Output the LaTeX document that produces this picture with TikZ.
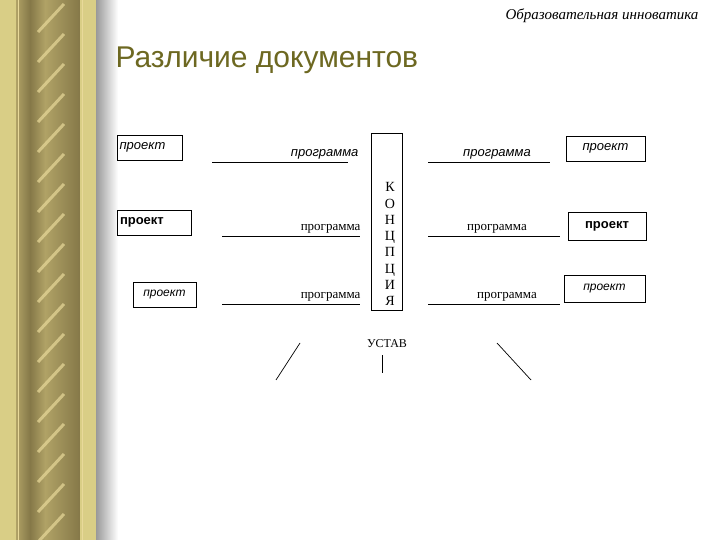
\documentclass[tikz,border=0pt]{standalone}
\usepackage{fontspec}
\setmainfont{Liberation Serif}
\newfontfamily\arialf{Liberation Sans}
\begin{document}
\begin{tikzpicture}[x=1pt,y=-1pt,
 pbox/.style={draw,line width=0.8pt,inner sep=0pt},
 lnk/.style={line width=0.7pt},
 sl/.style={font=\arialf\itshape\fontsize{13}{15}\selectfont},
 sr/.style={font=\fontsize{13}{15}\selectfont}]
\useasboundingbox (0,0) rectangle (720,540);
\fill[white] (0,0) rectangle (720,540);
% pillar
\definecolor{pl}{HTML}{D9CE86}
\definecolor{pd}{HTML}{857848}
\definecolor{pm}{HTML}{B0A266}
\definecolor{ph}{HTML}{E8D99A}
\shade[left color=gray!80,right color=white] (96,0) rectangle (118,540);
\fill[pl] (0,0) rectangle (16,540);
\shade[left color=pm,right color=pd] (16,0) rectangle (30,540);
\shade[left color=pd,right color=pm] (30,0) rectangle (45,540);
\shade[left color=pm,right color=pd] (45,0) rectangle (80,540);
\fill[pl] (80,0) rectangle (96,540);
\draw[ph,line width=0.6pt] (18,0) -- (18,540) (82,0) -- (82,540);
\foreach \y in {10,40,...,540} \draw[ph,line width=3pt,opacity=0.7] (38,\y+22) -- (64,\y-6);
% header
\node[anchor=east,font=\itshape\fontsize{15}{17}\selectfont] (hdr) at (702,16) {Образовательная инноватика};
\node[anchor=west,font=\arialf\fontsize{30}{34}\selectfont,text=olive!70!black] (ttl) at (112,60) {Различие документов};
% left boxes
\node[pbox,minimum width=65pt,minimum height=25pt,sl,align=left,text width=60pt] (l1) at (149.5,147.5) {проект};
\node[pbox,minimum width=74pt,minimum height=25pt,font=\arialf\bfseries\fontsize{13}{15}\selectfont,align=left,text width=68pt] (l2) at (154,222.5) {проект};
\node[pbox,minimum width=63pt,minimum height=25pt,font=\arialf\itshape\fontsize{12}{14}\selectfont] (l3) at (164.5,294.5) {проект};
% right boxes
\node[pbox,minimum width=79pt,minimum height=25pt,sl] (r1) at (605.5,148.5) {проект};
\node[pbox,minimum width=78pt,minimum height=28pt,font=\arialf\bfseries\fontsize{13}{15}\selectfont] (r2) at (607,226) {проект};
\node[pbox,minimum width=81pt,minimum height=27pt,font=\arialf\itshape\fontsize{12}{14}\selectfont] (r3) at (604.5,288.5) {проект};
% concept
\node[pbox,minimum width=31pt,minimum height=177pt] (kc) at (386.5,221.5) {};
\node[align=center,font=\fontsize{14}{16.3}\selectfont,inner sep=0pt,anchor=south] (kt) at (390,306) {К\\О\\Н\\Ц\\П\\Ц\\И\\Я};
% program lines
\coordinate (a1) at (212,162); \coordinate (b1) at (348,162);
\coordinate (a2) at (222,236); \coordinate (b2) at (360,236);
\coordinate (a3) at (222,304); \coordinate (b3) at (360,304);
\coordinate (c1) at (428,162); \coordinate (d1) at (550,162);
\coordinate (c2) at (428,236); \coordinate (d2) at (560,236);
\coordinate (c3) at (428,304); \coordinate (d3) at (560,304);
\draw[lnk] (a1) -- (b1); \draw[lnk] (a2) -- (b2); \draw[lnk] (a3) -- (b3);
\draw[lnk] (c1) -- (d1); \draw[lnk] (c2) -- (d2); \draw[lnk] (c3) -- (d3);
\node[sl,anchor=south east] (p1) at (362,163) {программа};
\node[sr,anchor=south east] (p2) at (364,237) {программа};
\node[sr,anchor=south east] (p3) at (364,305) {программа};
\node[sl,anchor=south] (q1) at (497,163) {программа};
\node[sr,anchor=south] (q2) at (497,237) {программа};
\node[sr,anchor=south] (q3) at (507,305) {программа};
% ustav
\node[font=\fontsize{12}{14}\selectfont] (us) at (387,344) {УСТАВ};
\coordinate (e1) at (300,343); \coordinate (f1) at (276,380);
\coordinate (e2) at (382,355); \coordinate (f2) at (382,373);
\coordinate (e3) at (497,343); \coordinate (f3) at (531,380);
\draw[lnk] (e1) -- (f1); \draw[lnk] (e2) -- (f2); \draw[lnk] (e3) -- (f3);
\end{tikzpicture}
\end{document}
